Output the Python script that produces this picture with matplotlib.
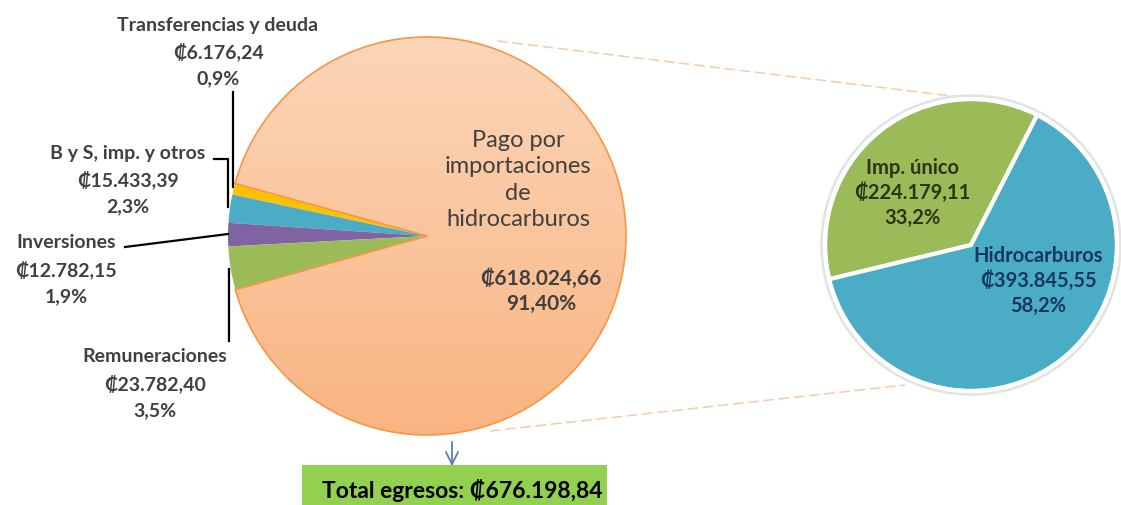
import numpy as np
import matplotlib
matplotlib.use("Agg")
import matplotlib.pyplot as plt
from matplotlib.patches import Rectangle, Circle

plt.rcParams['font.family'] = ['Lato', 'DejaVu Sans']

# --- data ---
main_labels = ["Transferencias y deuda", "B y S, imp. y otros", "Inversiones",
               "Remuneraciones", "Pago por\nimportaciones\nde\nhidrocarburos"]
main_values = [6176.24, 15433.39, 12782.15, 23782.40, 618024.66]
main_pcts = ["0,9%", "2,3%", "1,9%", "3,5%", "91,40%"]
main_colors = ["#FFC000", "#4BACC6", "#8064A2", "#9BBB59", "#FAC090"]

sub_labels = ["Imp. único", "Hidrocarburos"]
sub_values = [224179.11, 393845.55]
sub_pcts = ["33,2%", "58,2%"]
sub_colors = ["#9BBB59", "#4BACC6"]
sub_text_colors = ["#2B3510", "#17375E"]

total_label = "Total egresos:"
total_value = sum(main_values)

W, H = 1121, 506


def money(v):
    s = f"{v:,.2f}"
    return "\u20a1" + s.replace(",", "X").replace(".", ",").replace("X", ".")


def py(y):
    # pixel row (from top) -> data y
    return H - y


fig = plt.figure(figsize=(W / 100, H / 100), dpi=100)
ax = fig.add_axes([0, 0, 1, 1])

# big pie
c1, r1 = (427, py(237)), 199
wedges, _ = ax.pie(main_values, colors=main_colors, startangle=164.7, center=c1, radius=r1,
                   wedgeprops=dict(edgecolor="none", linewidth=0))
big = wedges[4]
big.set_facecolor("none")
big.set_edgecolor("#F79646")
big.set_linewidth(1.2)
big.set_zorder(3)
grad = np.linspace(0, 1, 256).reshape(-1, 1)
cmap = matplotlib.colors.LinearSegmentedColormap.from_list("peach", ["#FCD6B8", "#F9B482"])
img = ax.imshow(grad, cmap=cmap, extent=(c1[0] - r1, c1[0] + r1, c1[1] - r1, c1[1] + r1),
                origin="upper", aspect="auto", zorder=0.5)
img.set_clip_path(big)
for w in wedges[:4]:
    w.set_zorder(2)

# right pie
c2, r2 = (971, py(246)), 146
ax.add_patch(Circle(c2, r2 + 2, facecolor="none", edgecolor="#E3E3E3", linewidth=4, zorder=1))
ax.pie(sub_values, colors=sub_colors, startangle=63, center=c2, radius=r2,
       wedgeprops=dict(edgecolor="white", linewidth=3))
ax.add_patch(Circle(c2, r2, facecolor="none", edgecolor="white", linewidth=3, zorder=4))

# connector dashed lines
ax.plot([497, 1010], [py(42), py(104)], color="#F5CBAA", lw=1.1, ls=(0, (7, 3)), zorder=0)
ax.plot([490, 905], [py(432), py(386)], color="#F5CBAA", lw=1.1, ls=(0, (7, 3)), zorder=0)

txt = "#404040"
fs = 14

# small slice labels
small_pos = [(218, 25), (128, 153), (66, 243), (155, 357)]
for lab, v, p, (x, y) in zip(main_labels[:4], main_values[:4], main_pcts[:4], small_pos):
    ax.text(x, py(y), lab, ha="center", va="center", fontsize=fs, fontweight="bold", color=txt)
    ax.text(x, py(y + 27), money(v), ha="center", va="center", fontsize=fs, fontweight="bold", color=txt)
    ax.text(x, py(y + 54), p, ha="center", va="center", fontsize=fs, fontweight="bold", color=txt)

# leader lines
lk = dict(color="black", lw=1.6, zorder=5)
ax.plot([233, 233], [py(93), py(188)], **lk)
ax.plot([214, 228, 228], [py(160), py(160), py(208)], **lk)
ax.plot([125, 228], [py(248), py(235)], **lk)
ax.plot([229, 229], [py(270), py(342)], **lk)

# big slice label
ax.text(518, py(180), main_labels[4], ha="center", va="center", fontsize=17, color=txt,
        linespacing=1.32, zorder=6)
ax.text(541, py(291), money(main_values[4]) + "\n" + main_pcts[4], ha="center", va="center",
        fontsize=15, fontweight="bold", color=txt, linespacing=1.3, zorder=6)

# right pie labels
sub_pos = [(912, 193), (1038, 281)]
for lab, v, p, (x, y), col in zip(sub_labels, sub_values, sub_pcts, sub_pos, sub_text_colors):
    ax.text(x, py(y), f"{lab}\n{money(v)}\n{p}", ha="center", va="center", fontsize=14.5,
            fontweight="bold", color=col, linespacing=1.3, zorder=6)

# total box + arrow
ax.add_patch(Rectangle((302, 0), 305, py(466), facecolor="#92D050", edgecolor="none", zorder=1))
ax.text(462, py(491), f"{total_label} {money(total_value)}", ha="center", va="center",
        fontsize=16.5, fontweight="bold", color="black", zorder=6)
ax.annotate("", xy=(452, py(470)), xytext=(452, py(440)),
            arrowprops=dict(arrowstyle="->", color="#5B82B8", lw=1.3, mutation_scale=22))

ax.set_xlim(0, W)
ax.set_ylim(0, H)
ax.set_aspect("equal")
ax.axis("off")

fig.savefig("out.png", dpi=100, facecolor="white")
